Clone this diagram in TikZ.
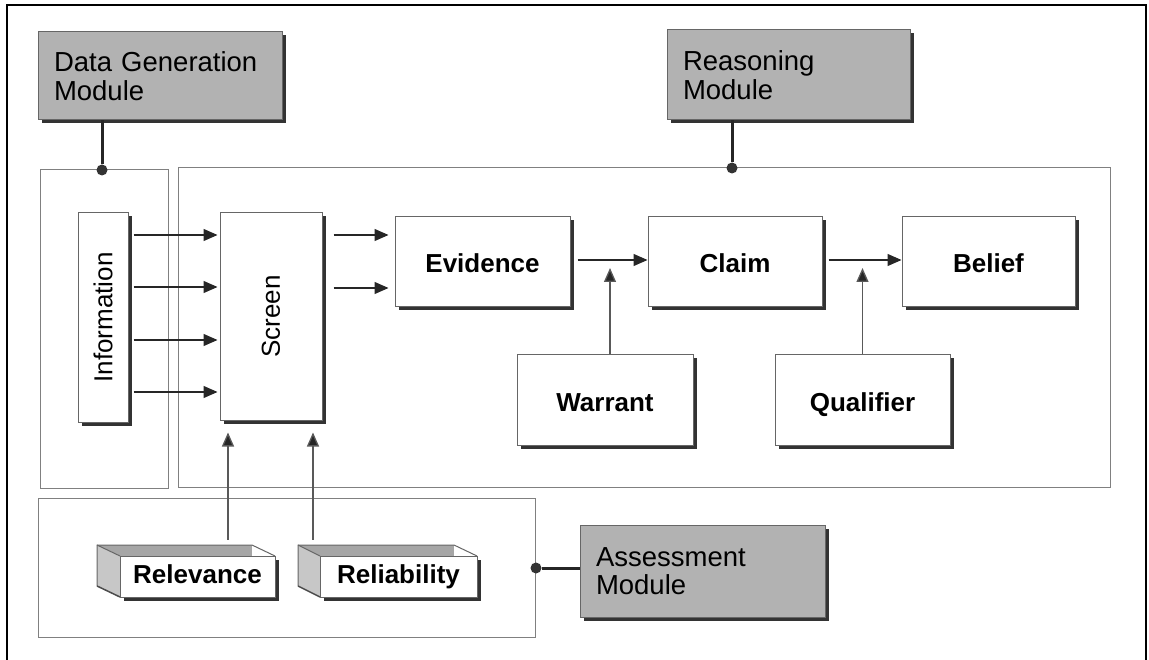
\documentclass[tikz,border=0pt]{standalone}
\usepackage{fontspec}
\setmainfont{Liberation Sans}
\usetikzlibrary{arrows.meta,shadows}
\begin{document}
\begin{tikzpicture}[x=1pt,y=-1pt,
  cont/.style={draw=black!50, line width=1pt},
  shad/.style={drop shadow={shadow xshift=3.5pt, shadow yshift=-3.5pt, opacity=1, fill=black!80}},
  bx/.style={shad, draw=black!60, line width=1pt, fill=white, inner sep=0pt,
    text height=22pt, text depth=0pt,
    font=\fontsize{26}{28}\selectfont\bfseries},
  rbx/.style={shad, draw=black!60, line width=1pt, fill=white, inner sep=0pt,
    font=\fontsize{26}{28}\selectfont},
  modbox/.style={shad, draw=black!60, line width=1pt, fill=black!30, inner xsep=16pt, inner ysep=0pt,
    align=left, font=\fontsize{27.5}{28.5}\selectfont},
  arr/.style={line width=1.3pt, draw=black!85, -{Triangle[length=14pt,width=12pt]}},
  arrg/.style={line width=1.3pt, draw=black!65, -{Triangle[length=14pt,width=12pt,fill=black!85]}},
  dot/.style={circle, fill=black!80, inner sep=0pt, minimum size=11pt},
  modline/.style={line width=3pt, draw=black!85},
  frame/.style={line width=2pt, draw=black}
]
\useasboundingbox (0,0) rectangle (1149,660);
% outer frame
\draw[frame] (7,665) -- (7,5) -- (1146,5) -- (1146,665);
% containers
\draw[cont] (40,170) rectangle (168,488);
\draw[cont] (178,168) rectangle (1110,487);
\draw[cont] (38,498) rectangle (535,637);
% modules
\node[modbox, text width=212pt, minimum height=88pt] (dgm) at (160,76) {Data Generation\\Module};
\node[modbox, text width=211pt, minimum height=90pt] (rm) at (788.5,75) {Reasoning\\Module};
\node[modbox, text width=213pt, minimum height=92pt] (am) at (702.5,571) {Assessment\\Module};
% dots
\node[dot] (d1) at (102,170) {};
\node[dot] (d2) at (732,168) {};
\node[dot] (d3) at (536,568) {};
\draw[modline] (dgm.south -| d1) -- (d1);
\draw[modline] (rm.south -| d2) -- (d2);
\draw[modline] (am.west |- d3) -- (d3);
% boxes
\node[rbx, minimum width=50pt, minimum height=209pt] (info) at (103,317.5) {\rotatebox{90}{Information}};
\node[rbx, minimum width=102pt, minimum height=207pt] (screen) at (271,316.5) {\rotatebox{90}{Screen}};
\node[bx, minimum width=175pt, minimum height=90pt] (evidence) at (482.5,262) {Evidence};
\node[bx, minimum width=174pt, minimum height=90pt] (claim) at (735,262) {Claim};
\node[bx, minimum width=173pt, minimum height=90pt] (belief) at (988.5,262) {Belief};
\node[bx, minimum width=176pt, minimum height=90pt] (warrant) at (605,400) {Warrant};
\node[bx, minimum width=175pt, minimum height=90pt] (qualifier) at (862.5,400) {Qualifier};
% 3D boxes
\fill[black!35] (97,545) -- (252,545) -- (275,556) -- (120,556) -- cycle;
\fill[white] (252,545) -- (275,556) -- (252,556) -- cycle;
\fill[black!22] (97,545) -- (120,556) -- (120,597) -- (97,586) -- cycle;
\draw[black!60, line width=1pt] (97,586) -- (97,545) -- (252,545) -- (275,556);
\draw[black!60, line width=1pt] (97,545) -- (120,556);
\draw[black!70, line width=1.5pt] (97,586) -- (120,597);
\node[bx, text height=19pt, text depth=5pt, minimum width=155pt, minimum height=41pt] (rel) at (197.5,576.5) {Relevance};
\fill[black!35] (298,545) -- (454,545) -- (477,556) -- (320,556) -- cycle;
\fill[white] (454,545) -- (477,556) -- (454,556) -- cycle;
\fill[black!22] (298,545) -- (320,556) -- (320,597) -- (298,586) -- cycle;
\draw[black!60, line width=1pt] (298,586) -- (298,545) -- (454,545) -- (477,556);
\draw[black!60, line width=1pt] (298,545) -- (320,556);
\draw[black!70, line width=1.5pt] (298,586) -- (320,597);
\node[bx, text height=19pt, text depth=5pt, minimum width=157pt, minimum height=41pt] (reli) at (398.5,576.5) {Reliability};
% arrows info -> screen
\foreach \yy in {235,287,340,392}{
  \draw[arr] ([xshift=5pt]info.east |- 0,\yy) -- ([xshift=-2pt]screen.west |- 0,\yy);
}
% screen -> evidence
\foreach \yy in {235,288}{
  \draw[arr] ([xshift=11pt]screen.east |- 0,\yy) -- ([xshift=-6pt]evidence.west |- 0,\yy);
}
\draw[arr] ([xshift=7pt]evidence.east |- 0,260) -- (claim.west |- 0,260);
\draw[arr] ([xshift=6pt]claim.east |- 0,260) -- (belief.west |- 0,260);
\draw[arrg] ([xshift=5pt]warrant.north) -- ([xshift=5pt]warrant.north |- 0,268);
\draw[arrg] (qualifier.north) -- (qualifier.north |- 0,268);
% relevance / reliability -> screen
\draw[arrg] ([yshift=16pt]rel.north -| 228,0) -- ([yshift=-12pt]screen.south -| 228,0);
\draw[arrg] ([yshift=16pt]reli.north -| 313,0) -- ([yshift=-12pt]screen.south -| 313,0);
\end{tikzpicture}
\end{document}
